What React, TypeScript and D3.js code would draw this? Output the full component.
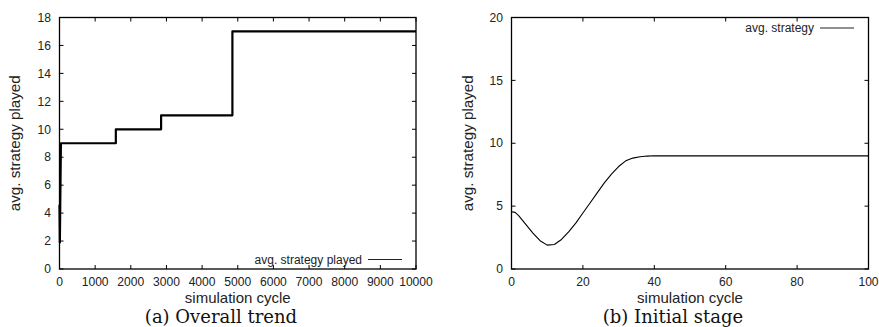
import React, { FC, useMemo } from "react";
import * as d3 from "d3";

// overall trend: the strategy level steps up over the run
const trendCycles = [0, 10, 40, 1580, 1580, 2850, 2850, 4850, 4850, 10000];
const trendValues = [4.6, 1.9, 9, 9, 10, 10, 11, 11, 17, 17];
const trendXTicks = [0, 1000, 2000, 3000, 4000, 5000, 6000, 7000, 8000, 9000, 10000];
const trendYTicks = [0, 2, 4, 6, 8, 10, 12, 14, 16, 18];

// initial stage: first 100 cycles
const initCycles = [0, 1, 2, 4, 6, 8, 10, 12, 14, 16, 18, 20, 22, 24, 26, 28, 30, 32, 34, 36, 38, 40, 50, 60, 70, 80, 90, 100];
const initValues = [4.55, 4.5, 4.25, 3.55, 2.85, 2.25, 1.9, 1.95, 2.35, 2.95, 3.65, 4.45, 5.25, 6.05, 6.85, 7.55, 8.15, 8.6, 8.82, 8.93, 8.98, 9.0, 9.0, 9.0, 9.0, 9.0, 9.0, 9.0];
const initXTicks = [0, 20, 40, 60, 80, 100];
const initYTicks = [0, 5, 10, 15, 20];

const sans = "'Liberation Sans', Arial, sans-serif";
const serif = "'DejaVu Serif', 'Liberation Serif', serif";

const Panel: FC<any> = (props: any) => {
    const {
        left,
        right,
        top = 17.5,
        bottom = 269,
        xDomain,
        yDomain,
        xTicks,
        yTicks,
        xs,
        ys,
        lineWidth = 1,
        legend,
        legendRight,
        legendY,
        yLabelX,
        caption,
        captionX,
    } = props;

    const x = useMemo(() => d3.scaleLinear(xDomain, [left, right]), [xDomain, left, right]);
    const y = useMemo(() => d3.scaleLinear(yDomain, [bottom, top]), [yDomain, bottom, top]);

    const path = useMemo(() => {
        const line = d3
            .line<number>()
            .x((_d: number, i: number) => x(xs[i]))
            .y((d: number) => y(d));
        return line(ys) || "";
    }, [x, y, xs, ys]);

    const tick = 4;

    return (
        <g>
            {/* ticks, mirrored inward on all sides */}
            {xTicks.map((t: number) => (
                <g key={`x${t}`}>
                    <line x1={x(t)} x2={x(t)} y1={bottom} y2={bottom - tick} stroke="#000" />
                    <line x1={x(t)} x2={x(t)} y1={top} y2={top + tick} stroke="#000" />
                    <text
                        x={x(t)}
                        y={285.5}
                        textAnchor="middle"
                        fontFamily={sans}
                        fontSize={12.1}
                        fill="#222"
                    >
                        {t}
                    </text>
                </g>
            ))}
            {yTicks.map((t: number) => (
                <g key={`y${t}`}>
                    <line x1={left} x2={left + tick} y1={y(t)} y2={y(t)} stroke="#000" />
                    <line x1={right} x2={right - tick} y1={y(t)} y2={y(t)} stroke="#000" />
                    <text
                        x={left - 8.5}
                        y={y(t)}
                        dy="0.35em"
                        textAnchor="end"
                        fontFamily={sans}
                        fontSize={12.1}
                        fill="#222"
                    >
                        {t}
                    </text>
                </g>
            ))}
            <path d={path} fill="none" stroke="#000" strokeWidth={lineWidth} strokeLinejoin="round" />
            <rect
                x={left}
                y={top}
                width={right - left}
                height={bottom - top}
                fill="none"
                stroke="#000"
                strokeWidth={1.3}
            />
            {/* legend */}
            <text
                x={legendRight}
                y={legendY}
                dy="0.35em"
                textAnchor="end"
                fontFamily={sans}
                fontSize={12}
                fill="#222"
            >
                {legend}
            </text>
            <line
                x1={legendRight + 6}
                x2={legendRight + 40}
                y1={legendY}
                y2={legendY}
                stroke="#222"
                strokeWidth={1}
            />
            <text
                x={(left + right) / 2}
                y={303}
                textAnchor="middle"
                fontFamily={sans}
                fontSize={15}
                fill="#222"
            >
                simulation cycle
            </text>
            <text
                transform={`translate(${yLabelX},${(top + bottom) / 2}) rotate(-90)`}
                dy="0.35em"
                textAnchor="middle"
                fontFamily={sans}
                fontSize={15.2}
                fill="#222"
            >
                avg. strategy played
            </text>
            <text
                x={captionX}
                y={322.5}
                textAnchor="middle"
                fontFamily={serif}
                fontSize={18}
                fill="#111"
            >
                {caption}
            </text>
        </g>
    );
};

export default function App() {
    return (
        <svg
            width={879}
            height={327}
            style={{ position: "absolute", top: 0, left: 0, background: "#fff" }}
        >
            <Panel
                left={59.5}
                right={416}
                xDomain={[0, 10000]}
                yDomain={[0, 18]}
                xTicks={trendXTicks}
                yTicks={trendYTicks}
                xs={trendCycles}
                ys={trendValues}
                lineWidth={2.2}
                legend="avg. strategy played"
                legendRight={362}
                legendY={259.5}
                yLabelX={15}
                caption="(a)  Overall trend"
                captionX={221}
            />
            <Panel
                left={511.5}
                right={868.5}
                xDomain={[0, 100]}
                yDomain={[0, 20]}
                xTicks={initXTicks}
                yTicks={initYTicks}
                xs={initCycles}
                ys={initValues}
                lineWidth={1.1}
                legend="avg. strategy"
                legendRight={814}
                legendY={28}
                yLabelX={468}
                caption="(b)  Initial stage"
                captionX={673}
            />
        </svg>
    );
}
